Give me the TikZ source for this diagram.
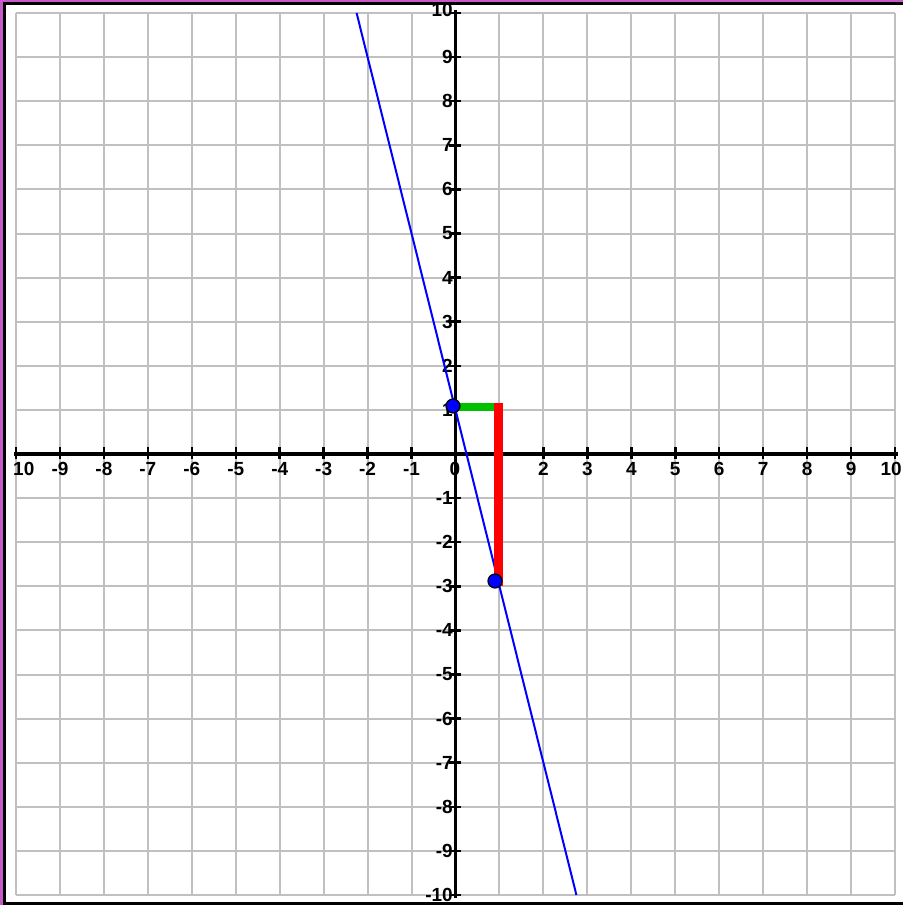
\documentclass[tikz,border=0pt]{standalone}
\usepackage{fontspec}
\setmainfont{Liberation Sans}
\definecolor{gridgray}{RGB}{192,192,192}
\definecolor{framemag}{RGB}{200,90,200}
\definecolor{bargreen}{RGB}{0,192,0}
\begin{document}
\begin{tikzpicture}[x=1pt,y=-1pt,
  gridline/.style={draw=gridgray,line width=2pt},
  axisline/.style={draw=black,line width=3.5pt},
  tickmark/.style={draw=black,line width=2.5pt},
  lbl/.style={font=\bfseries\fontsize{19}{19}\selectfont, inner sep=0pt, text=black},
  ptdot/.style={circle,fill=blue,draw=black,line width=1.2pt,minimum size=14pt,inner sep=0pt},
  fline/.style={draw=blue,line width=2pt},
  runbar/.style={draw=bargreen,line width=8pt},
  risebar/.style={draw=red,line width=9pt},
 ]
\useasboundingbox (0,0) rectangle (903,905);
\fill[white] (0,0) rectangle (903,905);
% grid
\foreach \i in {-10,...,10}{
  \pgfmathsetmacro\px{455.5+43.95*\i}
  \draw[gridline] (\px,13) -- (\px,895);
  \pgfmathsetmacro\py{454-44.1*\i}
  \draw[gridline] (16,\py) -- (895,\py);
}
% axes
\draw[axisline] (14,454) -- (898,454);
\draw[axisline] (455.5,10) -- (455.5,898);
% ticks
\foreach \i in {-10,...,10}{
  \pgfmathsetmacro\px{455.5+43.95*\i}
  \draw[tickmark] (\px,447) -- (\px,459);
  \pgfmathsetmacro\py{454-44.1*\i}
  \draw[tickmark] (449,\py) -- (461,\py);
}
% x labels
\node[lbl,anchor=west] (xlm10) at (13,469) {10};
\foreach \i in {-9,...,-1}{
  \pgfmathsetmacro\px{455.5+43.95*\i}
  \node[lbl] (xl\i) at (\px,469) {\i};
}
\node[lbl] (xl0) at (455,469) {0};
\foreach \i in {2,...,9}{
  \pgfmathsetmacro\px{455.5+43.95*\i}
  \node[lbl] (xl\i) at (\px,469) {\i};
}
\node[lbl,anchor=east] (xl10) at (902,469) {10};
% y labels
\node[lbl,anchor=east] (yl10) at (453,10) {10};
\foreach \i in {1,...,9}{
  \pgfmathsetmacro\py{454-44.1*\i}
  \node[lbl,anchor=east] (yl\i) at (453,\py) {\i};
}
\foreach \i in {-10,...,-1}{
  \pgfmathsetmacro\py{454-44.1*\i}
  \node[lbl,anchor=east] (ylm\i) at (453,\py) {\i};
}
% function line y = -4x + 1
\coordinate (ltop) at (356.6,13);
\coordinate (lbot) at (576.4,895);
\draw[fline] (ltop) -- (lbot);
% slope triangle
\coordinate (runstart) at (455,407);
\coordinate (corner) at (498.5,407);
\coordinate (riseend) at (498.5,586);
\draw[runbar] (runstart) -- (corner);
\draw[risebar,shorten <=-4pt] (corner) -- (riseend);
% points
\node[ptdot] (p1) at (453,406) {};
\node[ptdot] (p2) at (495,581) {};
% frame
\fill[framemag] (0,0) rectangle (903,2);
\fill[black] (3,2) rectangle (903,5);
\fill[framemag] (0,0) rectangle (3,905);
\fill[black] (3,2) rectangle (6,905);
\fill[black] (3,902) rectangle (903,905);
\end{tikzpicture}
\end{document}
